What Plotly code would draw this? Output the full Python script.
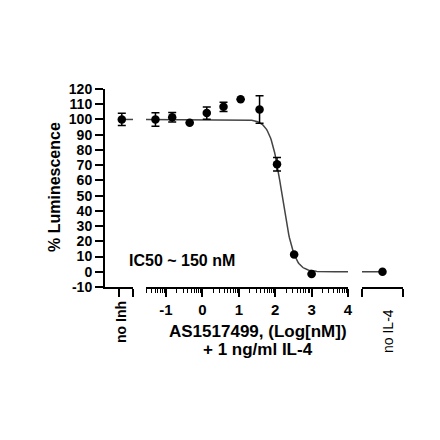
import math
import plotly.graph_objects as go

# ---- data ----
log_conc = [-1.29, -0.83, -0.35, 0.12, 0.58, 1.05, 1.57, 2.05, 2.52, 3.0]   # log10[nM]
lum_pct = [100.0, 101.5, 97.8, 104.2, 108.3, 113.3, 106.5, 70.6, 11.4, -1.5]
lum_err = [4.4, 3.1, 0.0, 4.0, 3.0, 0.0, 9.0, 4.5, 0.0, 0.0]

no_inh_value = [100.0]
no_inh_err = [4.0]
no_il4_value = [0.0]

# 4-parameter logistic fit drawn through the dose-response points
fit_top = 100.0
fit_bottom = 0.0
fit_log_ic50 = 2.19
fit_hill = 2.7

y_ticks = list(range(-10, 121, 10))
x_ticks = [-1, 0, 1, 2, 3, 4]
x_range = [-1.55, 4.0]

curve_x = [x_range[0] + i * (x_range[1] - x_range[0]) / 300 for i in range(301)]
curve_y = [fit_bottom + (fit_top - fit_bottom) / (1 + 10 ** ((x - fit_log_ic50) * fit_hill)) for x in curve_x]

minor_vals = []
for n in range(-2, 4):
    for k in range(2, 10):
        v = n + math.log10(k)
        if x_range[0] <= v <= x_range[1]:
            minor_vals.append(v)

FONT = "Liberation Sans, Arial, sans-serif"
fig = go.Figure()

# no inhibitor segment
fig.add_trace(go.Scatter(x=[0.6, 1.0], y=no_inh_value * 2, mode="lines",
                         line=dict(color="#444", width=1.5), xaxis="x", yaxis="y", showlegend=False))
fig.add_trace(go.Scatter(x=[0.6], y=no_inh_value, mode="markers",
                         marker=dict(color="black", size=8.5),
                         error_y=dict(type="data", array=no_inh_err, width=4, thickness=1.5, color="black"),
                         xaxis="x", yaxis="y", showlegend=False))

# main dose response
fig.add_trace(go.Scatter(x=curve_x, y=curve_y, mode="lines",
                         line=dict(color="#444", width=1.5), xaxis="x2", yaxis="y", showlegend=False))
fig.add_trace(go.Scatter(x=log_conc, y=lum_pct, mode="markers",
                         marker=dict(color="black", size=8.5),
                         error_y=dict(type="data", array=lum_err, width=4, thickness=1.5, color="black"),
                         xaxis="x2", yaxis="y", showlegend=False))

# no IL-4 segment
fig.add_trace(go.Scatter(x=[0.0, 0.5], y=no_il4_value * 2, mode="lines",
                         line=dict(color="#444", width=1.5), xaxis="x3", yaxis="y", showlegend=False))
fig.add_trace(go.Scatter(x=[0.5], y=no_il4_value, mode="markers",
                         marker=dict(color="black", size=8.5),
                         xaxis="x3", yaxis="y", showlegend=False))

OFF = 8  # page offset of the figure inside the browser window
# screen-pixel layout of the reference
S_L, S_R, S_T, S_B = 105, 403, 89, 287
L, T = S_L - OFF, S_T - OFF
R = 440 - (S_R - OFF)
B = 440 - (S_B - OFF)
PW, PH = S_R - S_L, S_B - S_T

def px_x(p):
    return (p - S_L) / PW

def px_y(p):
    return (S_B - p) / PH

axis_common = dict(showline=True, linewidth=2, linecolor="black", ticks="outside",
                   tickwidth=2, tickcolor="black", ticklen=8, showgrid=False, zeroline=False,
                   anchor="y", tickfont=dict(family=FONT, size=15, color="black", weight="bold"))

fig.update_layout(
    width=440, height=440, margin=dict(l=L, r=R, t=T, b=B, autoexpand=False),
    paper_bgcolor="white", plot_bgcolor="white",
    font=dict(family=FONT, color="black"),
    xaxis=dict(domain=[0, px_x(133)], range=[0, 1], tickvals=[0.5, 1.0], ticktext=["", ""], **axis_common),
    xaxis2=dict(domain=[px_x(146), px_x(348)], range=x_range, tickvals=x_ticks,
                ticktext=[str(t) for t in x_ticks],
                minor=dict(tickmode="array", tickvals=minor_vals, ticklen=4, tickwidth=1,
                           tickcolor="black", ticks="outside", showgrid=False),
                **axis_common),
    xaxis3=dict(domain=[px_x(362), 1.0], range=[0, 1], tickvals=[0.0, 1.0], ticktext=["", ""], **axis_common),
    yaxis=dict(domain=[0, 1], range=[-10, 120], tickvals=y_ticks, ticktext=[str(t) for t in y_ticks],
               showline=True, linewidth=2, linecolor="black", ticks="outside", tickwidth=2,
               ticklen=8, tickcolor="black", showgrid=False, zeroline=False, anchor="x",
               tickfont=dict(family=FONT, size=14, color="black", weight="bold")),
)

ann = [
    dict(text="% Luminescence", x=px_x(54), y=px_y(187), textangle=-90,
         font=dict(size=16, weight="bold")),
    dict(text="IC50 ~ 150 nM", x=px_x(127), y=px_y(260), xanchor="left",
         font=dict(size=16, weight="bold")),
    dict(text="AS1517499, (Log[nM])", x=px_x(258), y=px_y(331),
         font=dict(size=17, weight="bold")),
    dict(text="+ 1 ng/ml IL-4", x=px_x(258), y=px_y(349),
         font=dict(size=17, weight="bold")),
    dict(text="no Inh", x=px_x(121), y=px_y(322), textangle=-90,
         font=dict(size=14, weight="bold")),
    dict(text="no IL-4", x=px_x(388), y=px_y(331), textangle=-90,
         font=dict(size=14)),
]
for a in ann:
    a.update(xref="paper", yref="paper", showarrow=False)
    a.setdefault("xanchor", "center")
    a.setdefault("yanchor", "middle")
    a["font"].update(family=FONT, color="black")
fig.update_layout(annotations=ann)

fig.write_html("out.html")
